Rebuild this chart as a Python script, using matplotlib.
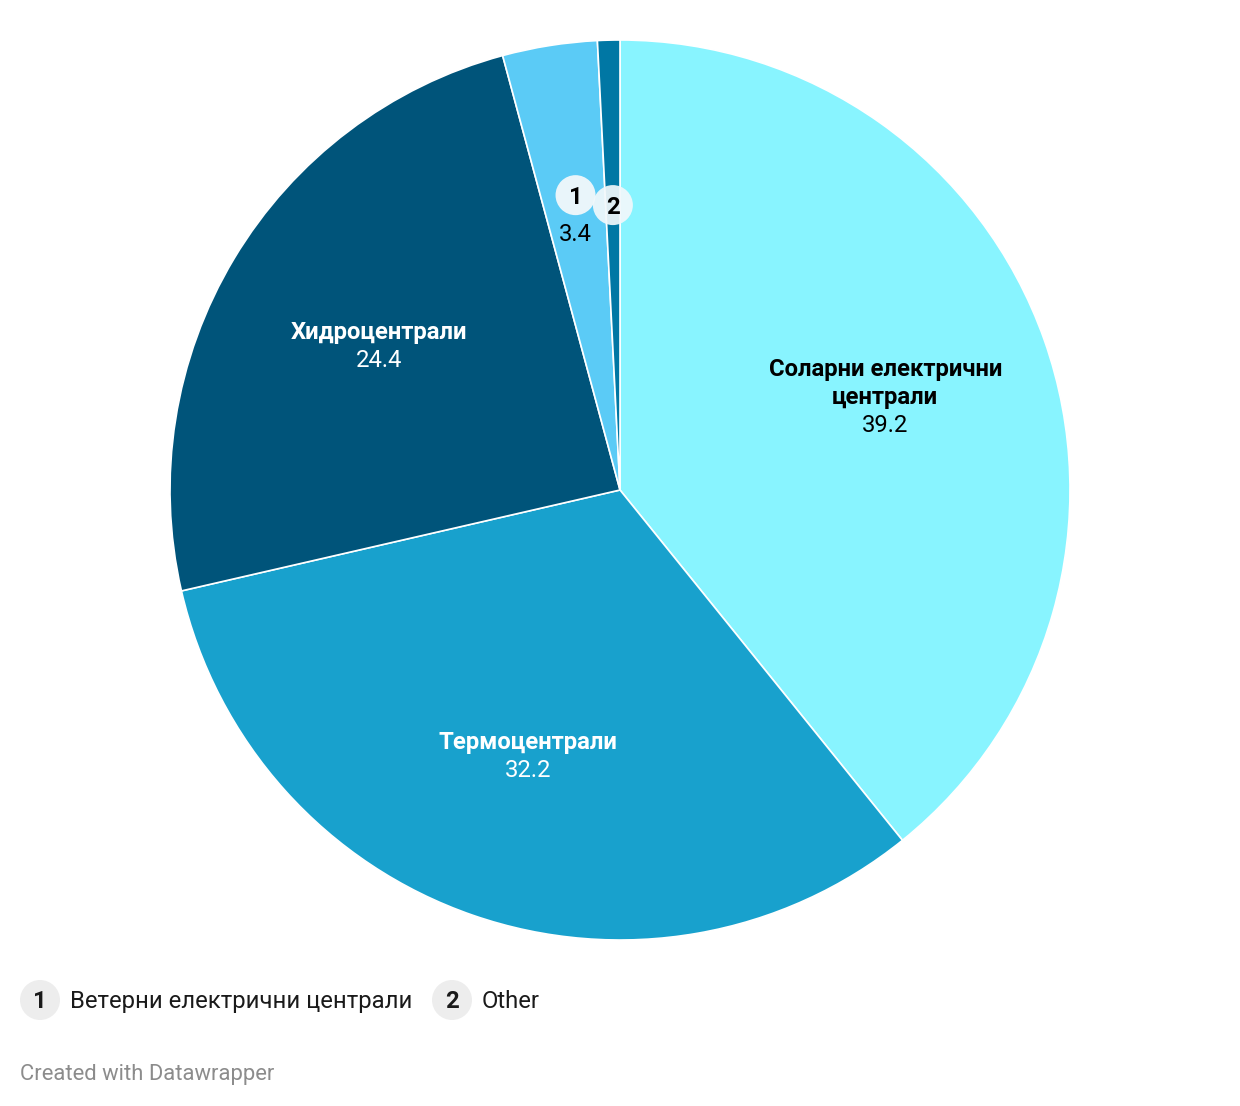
import numpy as np
import matplotlib
matplotlib.use("Agg")
import matplotlib.pyplot as plt
from matplotlib.patches import Circle

plt.rcParams['font.family'] = ['Roboto', 'DejaVu Sans']

categories = ["Соларни електрични\nцентрали", "Термоцентрали", "Хидроцентрали",
              "Ветерни електрични централи", "Other"]
values = [39.2, 32.2, 24.4, 3.4, 0.8]
colors = ["#88f4ff", "#18a1cd", "#00547a", "#5bcbf6", "#0077a4"]
label_colors = ["#000000", "#ffffff", "#ffffff", "#000000", "#000000"]
value_labels = ["39.2", "32.2", "24.4", "3.4", ""]
legend_keys = ["1", "2"]
legend_names = ["Ветерни електрични централи", "Other"]

W, H = 1240, 1106
fig = plt.figure(figsize=(W / 100, H / 100), dpi=100)
fig.patch.set_facecolor("white")

cx, cy, R = 620, 490, 450
ax = fig.add_axes([(cx - R) / W, (H - cy - R) / H, 2 * R / W, 2 * R / H])
ax.set_xlim(-1, 1)
ax.set_ylim(-1, 1)
ax.set_aspect("equal")
ax.axis("off")

wedges, _ = ax.pie(values, colors=colors, startangle=90, counterclock=False,
                   radius=1, wedgeprops=dict(edgecolor="white", linewidth=1.2))
ax.set_xlim(-1, 1)
ax.set_ylim(-1, 1)

def pos(w, r):
    a = np.deg2rad((w.theta1 + w.theta2) / 2)
    return r * np.cos(a), r * np.sin(a)

FS = 17.2
lh = 28 / R
up = 1.5 / R
# large slices
for i in range(3):
    x, y = pos(wedges[i], 0.625)
    lines = categories[i].split("\n") + [value_labels[i]]
    n = len(lines)
    top = y + (n - 1) * lh / 2 + up
    for j, line in enumerate(lines):
        bold = j < n - 1
        ax.text(x, top - j * lh, line, ha="center", va="center_baseline",
                fontsize=FS, fontweight="bold" if bold else "normal",
                color=label_colors[i])

# small slices: numbered circles
x, y = pos(wedges[3], 0.66)
x += 2 / R
ax.add_patch(Circle((x, y + up), 20 / R, facecolor="#f2f8fb", edgecolor="none", alpha=0.95, zorder=5))
ax.text(x, y + up, legend_keys[0], ha="center", va="center_baseline", fontsize=FS,
        fontweight="bold", color="#000000", zorder=6)
ax.text(x, y + up - 37 / R, value_labels[3], ha="center", va="center_baseline", fontsize=FS,
        color="#000000", zorder=6)

x, y = pos(wedges[4], 0.63)
ax.add_patch(Circle((x, y + up), 20 / R, facecolor="#f2f8fb", edgecolor="none", alpha=0.92, zorder=5))
ax.text(x, y + up, legend_keys[1], ha="center", va="center_baseline", fontsize=FS,
        fontweight="bold", color="#000000", zorder=6)

# legend at bottom
lax = fig.add_axes([0, 0, 1, 1])
lax.set_xlim(0, W)
lax.set_ylim(H, 0)
lax.axis("off")
lax.set_zorder(-1)
legend_x = [40, 452]
for k, name, lx in zip(legend_keys, legend_names, legend_x):
    lax.add_patch(Circle((lx, 1000), 20, facecolor="#ededed", edgecolor="none"))
    lax.text(lx, 999, k, ha="center", va="center_baseline", fontsize=17.2,
             fontweight="bold", color="#1a1a1a")
    lax.text(lx + 30, 999, name, ha="left", va="center_baseline", fontsize=17.2,
             color="#1a1a1a")

lax.text(20, 1072, "Created with Datawrapper", ha="left", va="center_baseline",
         fontsize=15.8, color="#8c8c8c")

fig.savefig("out.png", dpi=100, facecolor="white")
